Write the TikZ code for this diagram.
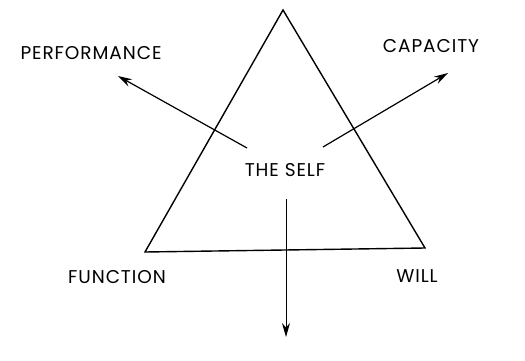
\documentclass[tikz,border=0pt]{standalone}
\usepackage{fontspec}
\setmainfont{Poppins}
\usetikzlibrary{arrows.meta, positioning}

\tikzset{
  label text/.style={font=\fontsize{18.5}{20}\selectfont\addfontfeature{LetterSpace=5}, inner sep=0pt},
  self arrow/.style={line width=1.2pt, -{Stealth[length=14pt,width=8pt]}}
}

\begin{document}
\begin{tikzpicture}[x=1pt, y=1pt, >=Stealth]
  \useasboundingbox (0,0) rectangle (525,360);

  % Triangle corners
  \coordinate (apex) at (283,350);
  \coordinate (left) at (145,108);
  \coordinate (right) at (425,112);
  \draw[line width=1.4pt, line join=miter] (apex) -- (left) -- (right) -- cycle;

  % Labels
  \node[label text] (self) at (285,190) {THE SELF};
  \node[label text] (perf) at (91,307) {PERFORMANCE};
  \node[label text] (cap) at (431,314) {CAPACITY};
  \node[label text] (func) at (117,83) {FUNCTION};
  \node[label text] (will) at (417,84) {WILL};

  % Arrows out of the self
  \coordinate (perf tail) at (247,212);
  \coordinate (perf tip) at (118,284);
  \coordinate (cap tail) at (323,213);
  \coordinate (cap tip) at (448,287);
  \coordinate (down tail) at (286,161);
  \coordinate (down tip) at (286,23);
  \draw[self arrow] (perf tail) -- (perf tip);
  \draw[self arrow] (cap tail) -- (cap tip);
  \draw[line width=1pt, -{Stealth[length=14pt,width=8pt]}] (down tail) -- (down tip);
\end{tikzpicture}
\end{document}
